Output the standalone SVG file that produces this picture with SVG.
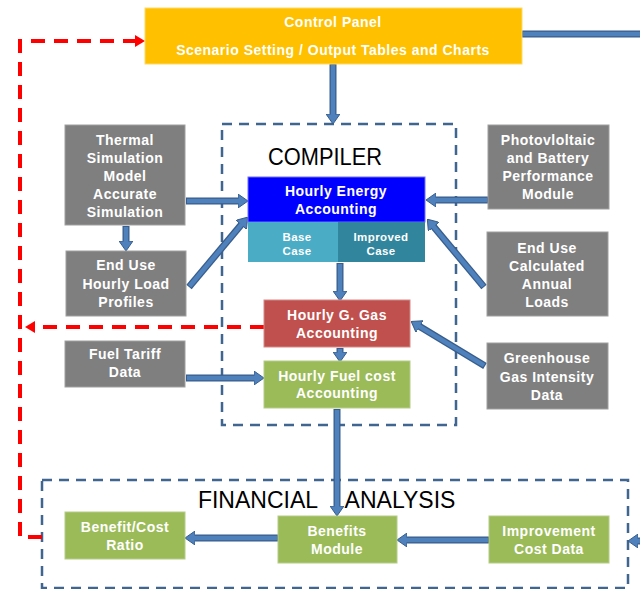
<svg xmlns="http://www.w3.org/2000/svg" width="640" height="589" viewBox="0 0 640 589">
<style>
.lbl{font-family:"Liberation Sans",Arial,sans-serif;font-weight:bold;fill:#fff;text-anchor:middle;font-size:14px;letter-spacing:0.5px}
.sm{font-size:11.5px;letter-spacing:0.4px}
.title{font-family:"Liberation Sans",Arial,sans-serif;fill:#000;font-size:23px;text-anchor:middle}
.gray{fill:#7F7F7F;stroke:#A0A0A0;stroke-width:1}
.green{fill:#9BBB59;stroke:#B5CC88;stroke-width:1}
.grp{fill:none;stroke:#3F6590;stroke-width:2.5;stroke-dasharray:10 7}
.shaft{stroke:#385D8A;stroke-width:7;fill:none}
.inner{stroke:#4F81BD;stroke-width:4.5;fill:none}
.red{stroke:#FF0000;stroke-width:4;fill:none;stroke-dasharray:14 9}
</style>
<defs>
<marker id="ah" viewBox="0 0 10 14" refX="1" refY="7" markerWidth="10" markerHeight="14" markerUnits="userSpaceOnUse" orient="auto">
<path d="M0,0 L10,7 L0,14 Z" fill="#4F81BD" stroke="#385D8A" stroke-width="1"/>
</marker>
<marker id="rh" viewBox="0 0 10 12" refX="1" refY="6" markerWidth="10" markerHeight="12" markerUnits="userSpaceOnUse" orient="auto">
<path d="M0,0 L10,6 L0,12 Z" fill="#FF0000"/>
</marker>
</defs>

<g id="compiler-group">
<rect class="grp" x="222" y="124" width="234" height="301"/>
<text class="title" x="325" y="165" textLength="114" lengthAdjust="spacingAndGlyphs">COMPILER</text>
</g>
<g id="financial-group">
<rect class="grp" x="42" y="480" width="586" height="108"/>
<text class="title" font-size="22.5"><tspan x="258" y="508">FINANCIAL</tspan><tspan x="400" y="508">ANALYSIS</tspan></text>
</g>

<g id="connectors">
<line class="red" x1="264" y1="327" x2="34" y2="327" marker-end="url(#rh)"/>
<path class="red" d="M42,537 L20,537 L20,41 L136,41" marker-end="url(#rh)"/>
<g id="blue-arrows">
<line class="shaft" x1="522" y1="34" x2="640" y2="34"/><line class="inner" x1="523" y1="34" x2="640" y2="34"/>
<line class="shaft" x1="333" y1="64" x2="333" y2="115" marker-end="url(#ah)"/><line class="inner" x1="333" y1="65" x2="333" y2="115"/>
<line class="shaft" x1="186" y1="201" x2="239" y2="201" marker-end="url(#ah)"/><line class="inner" x1="187" y1="201" x2="239" y2="201"/>
<line class="shaft" x1="126" y1="226" x2="126" y2="242" marker-end="url(#ah)"/><line class="inner" x1="126" y1="227" x2="126" y2="242"/>
<line class="shaft" x1="189" y1="287" x2="241.8" y2="224.1" marker-end="url(#ah)"/><line class="inner" x1="189.6" y1="286.2" x2="241.8" y2="224.1"/>
<line class="shaft" x1="488" y1="200" x2="435" y2="200" marker-end="url(#ah)"/><line class="inner" x1="487" y1="200" x2="435" y2="200"/>
<line class="shaft" x1="484" y1="287" x2="433.1" y2="226.1" marker-end="url(#ah)"/><line class="inner" x1="483.4" y1="286.2" x2="433.1" y2="226.1"/>
<line class="shaft" x1="340" y1="263" x2="340" y2="292" marker-end="url(#ah)"/><line class="inner" x1="340" y1="264" x2="340" y2="292"/>
<line class="shaft" x1="340" y1="348" x2="340" y2="353" marker-end="url(#ah)"/><line class="inner" x1="340" y1="349" x2="340" y2="353"/>
<line class="shaft" x1="186" y1="378" x2="255" y2="378" marker-end="url(#ah)"/><line class="inner" x1="187" y1="378" x2="255" y2="378"/>
<line class="shaft" x1="485" y1="366" x2="418.9" y2="326.1" marker-end="url(#ah)"/><line class="inner" x1="484" y1="365.4" x2="418.9" y2="326.1"/>
<line class="shaft" x1="337" y1="409" x2="337" y2="507" marker-end="url(#ah)"/><line class="inner" x1="337" y1="410" x2="337" y2="507"/>
<line class="shaft" x1="489" y1="540" x2="406" y2="540" marker-end="url(#ah)"/><line class="inner" x1="488" y1="540" x2="406" y2="540"/>
<line class="shaft" x1="278" y1="538" x2="194" y2="538" marker-end="url(#ah)"/><line class="inner" x1="277" y1="538" x2="194" y2="538"/>
<line class="shaft" x1="641" y1="541" x2="637" y2="541" marker-end="url(#ah)"/><line class="inner" x1="641" y1="541" x2="637" y2="541"/>
</g>
</g>

<g id="control-panel">
<rect x="145" y="8" width="377" height="56" fill="#FFC000" stroke="#FFD966" stroke-width="1"/>
<text class="lbl" x="333" y="27">Control Panel</text>
<text class="lbl" x="333" y="55">Scenario Setting / Output Tables and Charts</text>
</g>

<g id="thermal">
<rect class="gray" x="65" y="125" width="120" height="100"/>
<text class="lbl"><tspan x="125" y="145">Thermal</tspan><tspan x="125" y="163">Simulation</tspan><tspan x="125" y="181">Model</tspan><tspan x="125" y="199">Accurate</tspan><tspan x="125" y="217">Simulation</tspan></text>
</g>

<g id="end-use-hourly">
<rect class="gray" x="66" y="251" width="120" height="65"/>
<text class="lbl"><tspan x="126" y="270">End Use</tspan><tspan x="126" y="289">Hourly Load</tspan><tspan x="126" y="307">Profiles</tspan></text>
</g>

<g id="fuel-tariff">
<rect class="gray" x="65" y="341" width="120" height="46"/>
<text class="lbl"><tspan x="125" y="359">Fuel Tariff</tspan><tspan x="125" y="377">Data</tspan></text>
</g>

<g id="pv">
<rect class="gray" x="488" y="125" width="121" height="84"/>
<text class="lbl"><tspan x="548" y="145">Photovloltaic</tspan><tspan x="548" y="163">and Battery</tspan><tspan x="548" y="181">Performance</tspan><tspan x="548" y="199">Module</tspan></text>
</g>

<g id="end-use-annual">
<rect class="gray" x="487" y="232" width="121" height="84"/>
<text class="lbl"><tspan x="547" y="253">End Use</tspan><tspan x="547" y="271">Calculated</tspan><tspan x="547" y="289">Annual</tspan><tspan x="547" y="307">Loads</tspan></text>
</g>

<g id="greenhouse">
<rect class="gray" x="487" y="343" width="121" height="66"/>
<text class="lbl"><tspan x="547" y="363">Greenhouse</tspan><tspan x="547" y="382">Gas Intensity</tspan><tspan x="547" y="400">Data</tspan></text>
</g>

<g id="hourly-energy">
<rect x="248" y="177" width="177" height="45" fill="#0000FF" stroke="#6F6FFF" stroke-width="1"/>
<text class="lbl"><tspan x="336" y="196">Hourly Energy</tspan><tspan x="336" y="214">Accounting</tspan></text>
</g>
<g id="base-case">
<rect x="248" y="222" width="90" height="40" fill="#4BACC6"/>
<text class="lbl sm"><tspan x="297" y="241">Base</tspan><tspan x="297" y="255">Case</tspan></text>
</g>
<g id="improved-case">
<rect x="338" y="222" width="87" height="40" fill="#31859C"/>
<text class="lbl sm"><tspan x="381" y="241">Improved</tspan><tspan x="381" y="255">Case</tspan></text>
</g>

<g id="ggas">
<rect x="264" y="300" width="146" height="47" fill="#C0504D" stroke="#D48A88" stroke-width="1"/>
<text class="lbl"><tspan x="337" y="320">Hourly G. Gas</tspan><tspan x="337" y="338">Accounting</tspan></text>
</g>

<g id="fuel-cost">
<rect class="green" x="264" y="361" width="146" height="47"/>
<text class="lbl"><tspan x="337" y="381">Hourly Fuel cost</tspan><tspan x="337" y="398">Accounting</tspan></text>
</g>

<g id="benefit-cost">
<rect class="green" x="65" y="512" width="120" height="47"/>
<text class="lbl"><tspan x="125" y="532">Benefit/Cost</tspan><tspan x="125" y="550">Ratio</tspan></text>
</g>

<g id="benefits">
<rect class="green" x="278" y="516" width="119" height="47"/>
<text class="lbl"><tspan x="337" y="536">Benefits</tspan><tspan x="337" y="554">Module</tspan></text>
</g>

<g id="improvement">
<rect class="green" x="489" y="516" width="120" height="47"/>
<text class="lbl"><tspan x="549" y="536">Improvement</tspan><tspan x="549" y="554">Cost Data</tspan></text>
</g>
</svg>
